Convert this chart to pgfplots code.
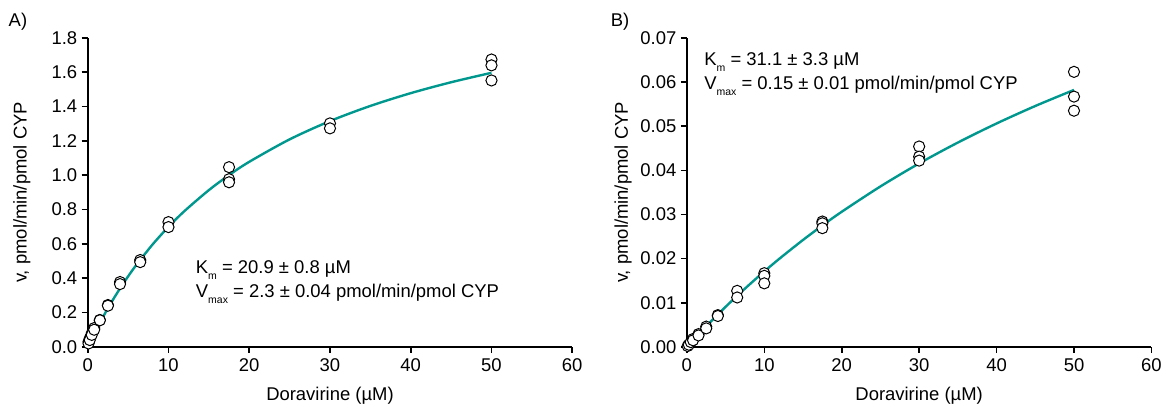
\documentclass[border=0pt]{standalone}
\usepackage{pgfplots}
\pgfplotsset{compat=1.18}
\usepackage{fontspec}
\setmainfont{Liberation Sans}
\definecolor{teal1}{RGB}{0,152,142}
\newcommand{\fs}{\fontsize{18.5}{21}\selectfont}
\pgfplotsset{
  mystyle/.style={
    scale only axis, height=310pt,
    axis lines=left, axis line style={-, line width=1.8pt},
    tick align=outside, major tick length=6pt,
    every tick/.style={line width=1.6pt, black},
    xmin=0, xmax=60, xtick={0,10,...,60},
    tick label style={font=\fs},
    /pgf/number format/assume math mode=true,
    scaled y ticks=false,
    clip=false,
    xticklabel style={yshift=-2pt},
    yticklabel style={xshift=-1pt},
  },
  pts/.style={only marks, mark=*, mark size=5.6pt, mark options={fill=white, draw=black, line width=1pt}},
  fit/.style={color=teal1, line width=2.4pt, no marks, smooth},
}
\begin{document}
\begin{tikzpicture}[x=1pt,y=1pt]
\path (0,0) rectangle (1165,411);
% Panel A
\begin{axis}[mystyle, at={(88pt,63pt)}, anchor=south west, width=486pt,
  ymin=0, ymax=1.8, ytick={0,0.2,...,1.8},
  yticklabel style={/pgf/number format/fixed, /pgf/number format/fixed zerofill, /pgf/number format/precision=1}]
\addplot[fit] coordinates {(0.25,0.0246) (0.5,0.0488) (1,0.0955) (2,0.1836) (3,0.265) (4,0.3406) (5,0.4108) (6,0.4764) (8,0.5949) (10,0.6994) (12,0.7921) (15,0.9132) (17.5,1.0006) (20,1.078) (25,1.2088) (30,1.3153) (35,1.4036) (40,1.478) (45,1.5415) (50,1.5965)};
\addplot[pts] coordinates {
(0.1,0.03) (0.1,0.02) (0.25,0.05) (0.25,0.04) (0.5,0.08) (0.5,0.07)
(0.8,0.11) (0.8,0.10) (1.5,0.157) (1.5,0.155) (2.5,0.244) (2.5,0.24)
(4,0.378) (4,0.366) (6.5,0.506) (6.5,0.494) (10,0.727) (10,0.698)
(17.5,1.047) (17.5,0.977) (17.5,0.959) (30,1.302) (30,1.273)
(50,1.674) (50,1.640) (50,1.552)};
\end{axis}
% Panel B
\begin{axis}[mystyle, at={(689pt,63pt)}, anchor=south west, width=466pt,
  ymin=0, ymax=0.07, ytick={0,0.01,...,0.07},
  yticklabel style={/pgf/number format/fixed, /pgf/number format/fixed zerofill, /pgf/number format/precision=2}]
\addplot[fit] coordinates {(0.25,0.000482) (0.5,0.000962) (1,0.00191) (2,0.00377) (3,0.00559) (4,0.00736) (5,0.00908) (6,0.01076) (8,0.0140) (10,0.0171) (12,0.02005) (15,0.02423) (17.5,0.0275) (20,0.03061) (25,0.03635) (30,0.04156) (35,0.04629) (40,0.05061) (45,0.05457) (50,0.05821)};
\addplot[pts] coordinates {
(0.1,0.0002) (0.25,0.0005) (0.5,0.0011) (0.8,0.0018) (0.8,0.0015)
(1.5,0.0029) (1.5,0.0026) (2.5,0.0046) (2.5,0.0042) (4,0.0072) (4,0.0070)
(6.5,0.0127) (6.5,0.0112) (10,0.0167) (10,0.0161) (10,0.0144)
(17.5,0.0284) (17.5,0.0280) (17.5,0.0269) (30,0.0454) (30,0.0431) (30,0.0422)
(50,0.0623) (50,0.0567) (50,0.0535)};
\end{axis}
% labels
\node[font=\fs] at (18,389) {A)};
\node[font=\fs] at (622,389) {B)};
\node[font=\fs, rotate=90] at (22,218) {v, pmol/min/pmol CYP};
\node[font=\fs, rotate=90] at (625,218) {v, pmol/min/pmol CYP};
\node[font=\fs] at (331,14) {Doravirine (µM)};
\node[font=\fs] at (922,14) {Doravirine (µM)};
\node[font=\fs, anchor=west] at (193,140) {K\raisebox{-0.6ex}{\fontsize{10.5}{10}\selectfont m} = 20.9 ± 0.8 µM};
\node[font=\fs, anchor=west] at (193,116) {V\raisebox{-0.6ex}{\fontsize{10.5}{10}\selectfont max} = 2.3 ± 0.04 pmol/min/pmol CYP};
\node[font=\fs, anchor=west] at (703,349) {K\raisebox{-0.6ex}{\fontsize{10.5}{10}\selectfont m} = 31.1 ± 3.3 µM};
\node[font=\fs, anchor=west] at (703,325) {V\raisebox{-0.6ex}{\fontsize{10.5}{10}\selectfont max} = 0.15 ± 0.01 pmol/min/pmol CYP};
\end{tikzpicture}
\end{document}
